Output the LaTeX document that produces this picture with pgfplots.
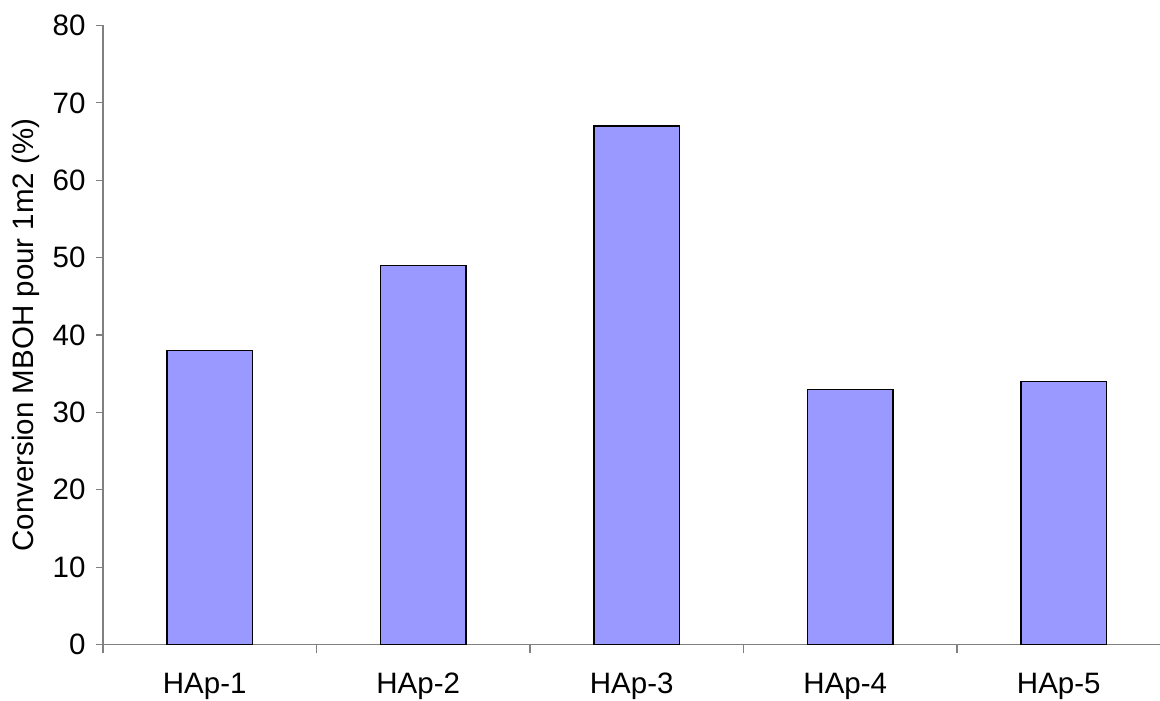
\documentclass[border=0pt]{standalone}
\usepackage{pgfplots}
\pgfplotsset{compat=1.18}
\usepackage{fontspec}
\setmainfont{Liberation Sans}
\definecolor{barfill}{HTML}{9999FF}
\definecolor{axgray}{HTML}{808080}
\newcommand{\lblfont}{\fontsize{29.5}{34}\selectfont}
\begin{document}
\begin{tikzpicture}
\useasboundingbox (0,0) rectangle (1160pt,701pt);
\begin{axis}[
  at={(103pt,56.5pt)}, anchor=south west,
  scale only axis,
  width=1057pt, height=619pt,
  xmin=-0.5, xmax=4.451,
  ymin=0, ymax=80,
  axis x line*=bottom, axis y line*=left,
  axis line style={axgray, line width=1.2pt, -},
  ytick={0,10,...,80},
  xtick={0,1,2,3,4},
  xticklabels={HAp-1,HAp-2,HAp-3,HAp-4,HAp-5},
  minor xtick={-0.5,0.5,1.5,2.5,3.5},
  major x tick style={draw=none},
  minor x tick style={axgray, line width=1.2pt},
  minor tick length=9pt,
  y tick style={axgray, line width=1.2pt},
  major tick length=7pt,
  tick align=outside,
  ytick pos=left, xtick pos=bottom,
  /pgf/number format/assume math mode=true,
  tick label style={font=\lblfont, black},
  yticklabel style={xshift=-7pt},
  xticklabel style={yshift=-18pt, xshift=-5pt},
  ylabel={Conversion MBOH pour 1m2 (\%)},
  label style={font=\lblfont},
  ylabel style={at={(ticklabel cs:0.5)}, anchor=south, yshift=6pt},
  clip=false,
]
\addplot[ybar, bar width=85.5pt, fill=barfill, draw=black, line width=1.2pt]
  coordinates {(0,38) (1,49) (2,67) (3,33) (4,34)};
\end{axis}
\end{tikzpicture}
\end{document}
